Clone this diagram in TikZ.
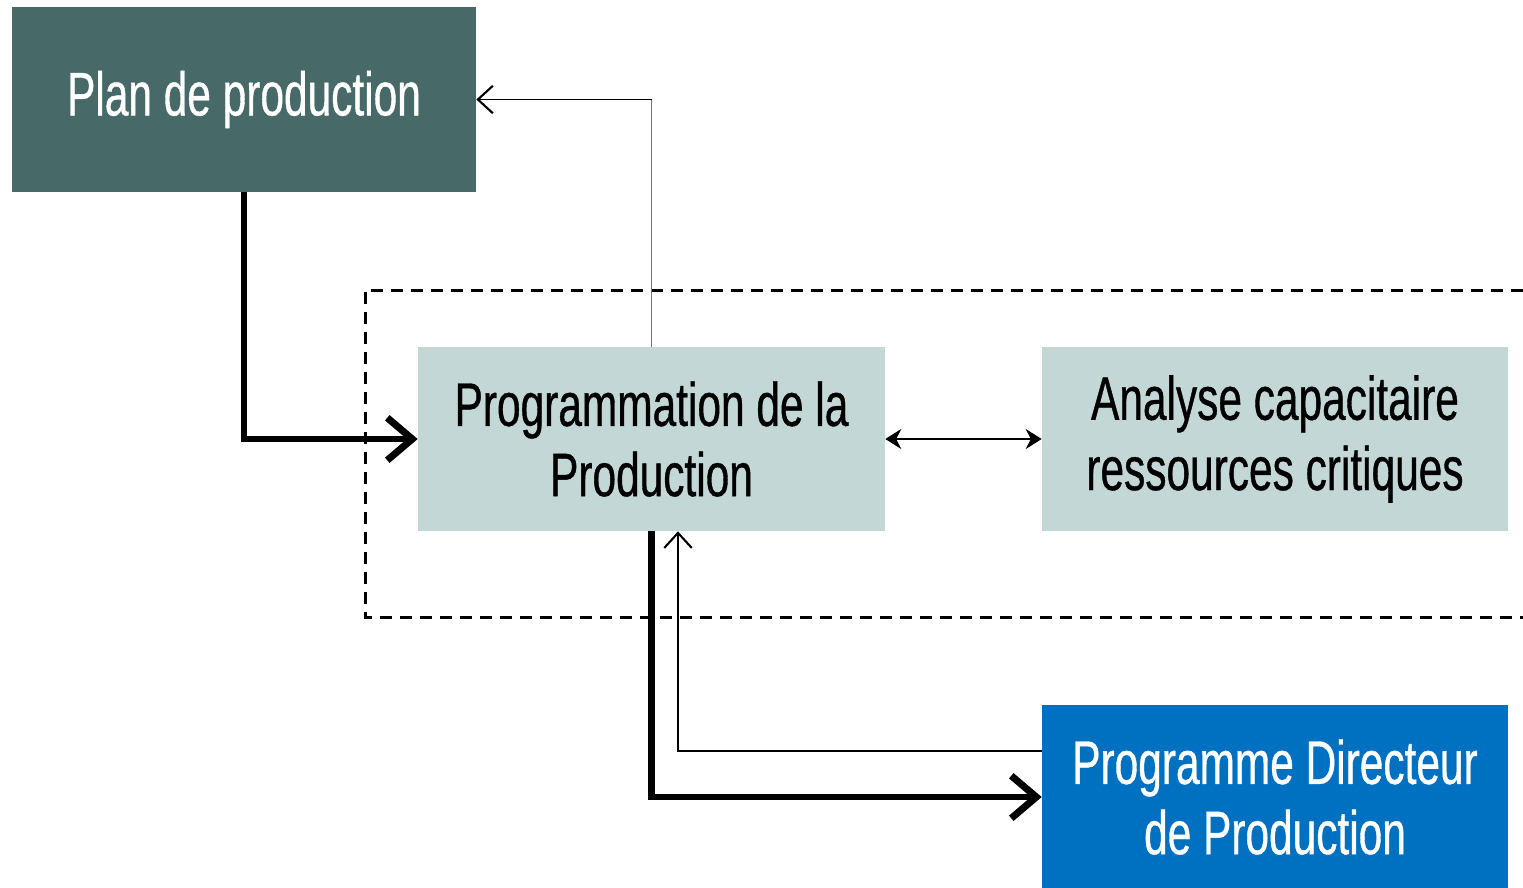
\documentclass[tikz,border=0pt]{standalone}
\usepackage{fontspec}
\setmainfont[FakeStretch=0.69,FakeBold=0.6]{Liberation Sans}
\usetikzlibrary{arrows.meta}
\definecolor{plancol}{HTML}{476A69}
\definecolor{progcol}{HTML}{C2D7D6}
\definecolor{pdpcol}{HTML}{0070C0}
\begin{document}
\begin{tikzpicture}[x=0.02cm,y=-0.02cm,
  boxstyle/.style={rectangle,inner sep=0pt,align=center,font=\fontsize{35}{40}\selectfont},
  thickarrow/.style={line width=3.6pt,-{Straight Barb[length=0.5cm,width=0.85cm,line width=4pt]}},
  thinarrow/.style={line width=1.1pt,-{Straight Barb[length=0.3cm,width=0.55cm,line width=1.2pt]}},
  dblarrow/.style={line width=1.3pt,{Stealth[length=0.32cm,width=0.4cm]}-{Stealth[length=0.32cm,width=0.4cm]}},
  dashbox/.style={line width=1.7pt,dash pattern=on 0.24cm off 0.16cm}]
\useasboundingbox (0,0) rectangle (1523,887);
% dashed frame (open on the right)
\draw[dashbox] (1523,290) -- (365,290) -- (365,617) -- (1523,617);
% boxes
\node[boxstyle,fill=plancol,text=white,minimum width=9.28cm,minimum height=3.7cm] (plan) at (244,99.5) {Plan de production};
\node[boxstyle,fill=progcol,text=black,minimum width=9.34cm,minimum height=3.68cm] (prog) at (651.5,439) {Programmation de la\\Production};
\node[boxstyle,fill=progcol,text=black,minimum width=9.32cm,minimum height=3.68cm] (ana) at (1275,439) {Analyse capacitaire\\ressources critiques};
\node[boxstyle,fill=pdpcol,text=white,minimum width=9.32cm,minimum height=3.7cm] (pdp) at (1275,797) {Programme Directeur\\de Production};
% connectors
\draw[thickarrow] (plan.south) |- (prog.west);
\coordinate (corner) at (prog.north |- plan.east);
\draw[line width=1.1pt,draw=black!55] (prog.north) -- (corner);
\draw[thinarrow] (corner) -- (plan.east);
\draw[dblarrow] (prog.east) -- (ana.west);
\draw[thickarrow] (prog.south) |- (pdp.west);
\draw[thinarrow] ([yshift=0.92cm]pdp.west) -| ([xshift=0.53cm]prog.south);
\end{tikzpicture}
\end{document}
